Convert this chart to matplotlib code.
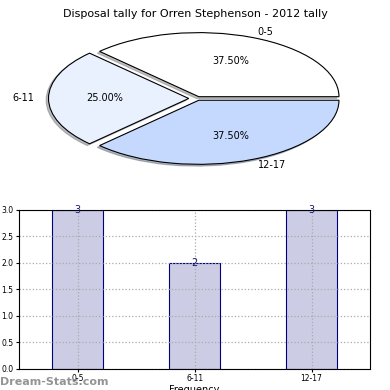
import numpy as np
import matplotlib
matplotlib.use('Agg')
from matplotlib import pyplot as plt

# data
categories = ['0-5', '6-11', '12-17']
counts = [3, 2, 3]
pie_colors = ['#ffffff', '#eaf1fe', '#c5d9fe']

fig = plt.figure(figsize=(3.9, 3.9), dpi=100)

# pie on top
ax1 = fig.add_axes([0.128, 0.575, 0.755, 0.345])
ax1.pie(counts, labels=categories, colors=pie_colors, autopct='%.2f%%',
        explode=(0.03, 0.06, 0.03), startangle=0,
        shadow={'ox': -0.012, 'oy': -0.02, 'shade': 0.5},
        labeldistance=1.1, pctdistance=0.6,
        wedgeprops={'edgecolor': 'black', 'linewidth': 0.8},
        textprops={'fontsize': 7})
ax1.set_aspect('auto')
ax1.set_xlim(-1.05, 1.05)
ax1.set_ylim(-1.05, 1.05)
fig.text(0.5, 0.965, 'Disposal tally for Orren Stephenson - 2012 tally',
         ha='center', va='center', fontsize=8)

# bars below
ax2 = fig.add_axes([0.049, 0.054, 0.9, 0.408])
x = np.arange(len(categories))
bars = ax2.bar(x, counts, width=0.44, color='#ccccE5', edgecolor='#000080', linewidth=0.8)
for xi, c in zip(x, counts):
    ax2.text(xi, c, str(c), ha='center', va='center', fontsize=7, color='#1a1a6e')
ax2.set_xlim(-0.5, 2.5)
ax2.set_ylim(0, 3)
ax2.set_xticks(x)
ax2.set_xticklabels(categories)
ax2.set_yticks(np.arange(0, 3.01, 0.5))
ax2.tick_params(labelsize=5.5, length=2, pad=2)
ax2.set_axisbelow('line')
ax2.grid(True, linestyle=':', color='#aaaaaa', linewidth=0.9)
ax2.set_xlabel('Frequency', fontsize=7, labelpad=1)

fig.text(0.0, 0.02, 'Dream-Stats.com', fontsize=8, color='#888888', fontweight='bold',
         ha='left', va='center', alpha=0.9)

fig.savefig('out.png', dpi=100)
